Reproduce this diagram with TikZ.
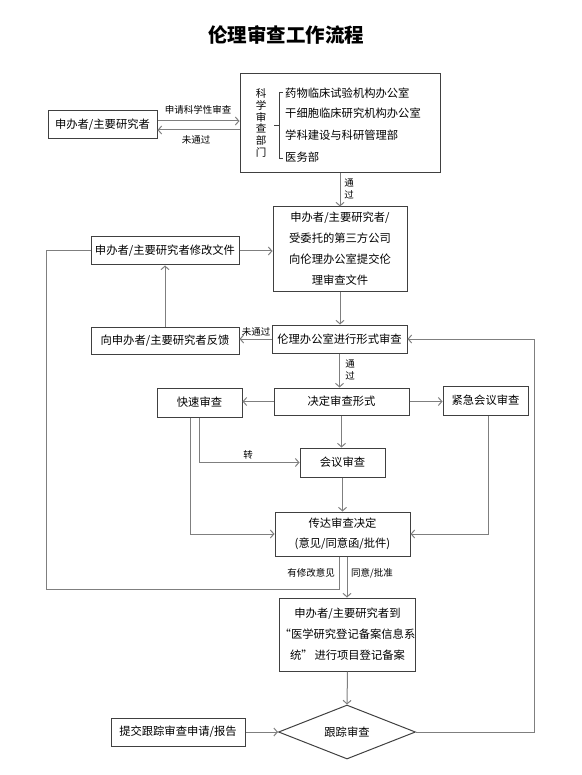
\documentclass[tikz,border=0pt]{standalone}
\usepackage{fontspec}
\setmainfont{Noto Sans CJK SC}
\usetikzlibrary{arrows.meta,shapes.geometric}
\definecolor{linec}{HTML}{7F7F7F}
\definecolor{boxc}{HTML}{404040}
\begin{document}
\begin{tikzpicture}[x=1pt,y=-1pt,
 box/.style={draw=boxc,line width=1pt,inner sep=0pt,align=center,font=\fontsize{11.3}{21}\selectfont},
 conn/.style={draw=linec,line width=1pt},
 arr/.style={conn,-{Straight Barb[length=3.5pt,width=8pt]}},
 lab/.style={inner sep=0pt,align=center,font=\fontsize{9.5}{12}\selectfont},
 item/.style={anchor=west,inner sep=0pt,font=\fontsize{11.3}{12}\selectfont},
]
\useasboundingbox (0,0) rectangle (581,775);
\node[inner sep=0pt,font=\fontsize{19.5}{21}\selectfont\bfseries] (title) at (286,35) {伦理审查工作流程};

\node[box,minimum width=109pt,minimum height=28pt] (A) at (102.5,125) {申办者/主要研究者};
\node[box,minimum width=200pt,minimum height=99pt] (B) at (340,123.5) {};
\node[inner sep=0pt,align=center,font=\fontsize{10.5}{11.8}\selectfont] (Bv) at (261,123) {科\\学\\审\\查\\部\\门};
\node[item] (B1) at (285,93) {药物临床试验机构办公室};
\node[item] (B2) at (285,113) {干细胞临床研究机构办公室};
\node[item] (B3) at (285,135) {学科建设与科研管理部};
\node[item] (B4) at (285,157) {医务部};
\draw[boxc,line width=0.7pt] (283,92) -| (279,158) -- (283,158);
\draw[boxc,line width=0.7pt] (274,125) -- (279,125);

\node[box,minimum width=134pt,minimum height=84pt] (C) at (340,249) {申办者/主要研究者/\\受委托的第三方公司\\向伦理办公室提交伦\\理审查文件};
\node[box,minimum width=148pt,minimum height=28pt] (D) at (165,251) {申办者/主要研究者修改文件};
\node[box,minimum width=148pt,minimum height=27pt] (E) at (165,340.5) {向申办者/主要研究者反馈};
\node[box,minimum width=135pt,minimum height=28pt] (F) at (339.5,339) {伦理办公室进行形式审查};
\node[box,minimum width=135pt,minimum height=27pt] (G) at (341.5,401.5) {决定审查形式};
\node[box,minimum width=85pt,minimum height=29pt] (H) at (199.5,402.5) {快速审查};
\node[box,minimum width=85pt,minimum height=29pt] (I) at (485.5,400.5) {紧急会议审查};
\node[box,minimum width=85pt,minimum height=29pt] (J) at (342.5,462.5) {会议审查};
\node[box,minimum width=135pt,minimum height=44pt,font=\fontsize{11.3}{20}\selectfont] (K) at (342.5,534) {传达审查决定\\(意见/同意函/批件)};
\node[box,minimum width=135pt,minimum height=73pt] (L) at (347.5,634.5) {申办者/主要研究者到\\“医学研究登记备案信息系\\统”\,进行项目登记备案};
\node[diamond,aspect=2.54,draw=boxc,line width=1pt,inner sep=0pt,minimum width=137pt,minimum height=54pt,font=\fontsize{11.3}{12}\selectfont] (M) at (347,732) {跟踪审查};
\node[box,minimum width=134pt,minimum height=28pt] (N) at (178,732) {提交跟踪审查申请/报告};

% connectors
\coordinate (a1) at ([yshift=4pt]A.east);
\draw[arr] (a1) -- (a1 -| B.west);
\coordinate (b1) at ([yshift=-6.5pt]B.west);
\draw[arr] (b1) -- (b1 -| A.east);
\draw[arr] (B.south) -- (B.south |- C.north);
\draw[arr] (D.east) -- (D.east -| C.west);
\draw[arr] (E.north) -- (D.south);
\draw[arr] (C.south) -- (C.south |- F.north);
\draw[arr] (F.west) -- (F.west -| E.east);
\draw[arr] (F.south) -- (F.south |- G.north);
\draw[arr] (G.west) -- (G.west -| H.east);
\draw[arr] (G.east) -- (G.east -| I.west);
\draw[arr] (G.south) -- (G.south |- J.north);
\draw[arr] (H.south) |- (J.west);
\coordinate (h2) at ([xshift=-9.5pt]H.south);
\draw[arr] (h2) |- (K.west);
\coordinate (i2) at ([xshift=2.5pt]I.south);
\draw[arr] (i2) |- (K.east);
\draw[arr] (J.south) -- (J.south |- K.north);
\coordinate (k2) at ([xshift=4.5pt]K.south);
\draw[arr] (k2) -- (k2 |- L.north);
\coordinate (k1) at ([xshift=-3.5pt]K.south);
\coordinate (lp) at (46,589);
\draw[conn] (k1) |- (lp) |- (D.west);
\draw[arr] (L.south) -- (M.north);
\draw[arr] (N.east) -- (M.west);
\coordinate (rp) at (534,732);
\draw[arr] (M.east) -- (rp) |- (F.east);

% labels
\node[lab] (l1) at (198,110) {申请科学性审查};
\node[lab] (l2) at (196,140) {未通过};
\node[lab] (l3) at (349,189) {通\\过};
\node[lab] (l4) at (256,332) {未通过};
\node[lab] (l5) at (350,370) {通\\过};
\node[lab] (l6) at (248,455) {转};
\node[lab] (l7) at (311,573) {有修改意见};
\node[lab] (l8) at (372,573) {同意/批准};
\end{tikzpicture}
\end{document}
